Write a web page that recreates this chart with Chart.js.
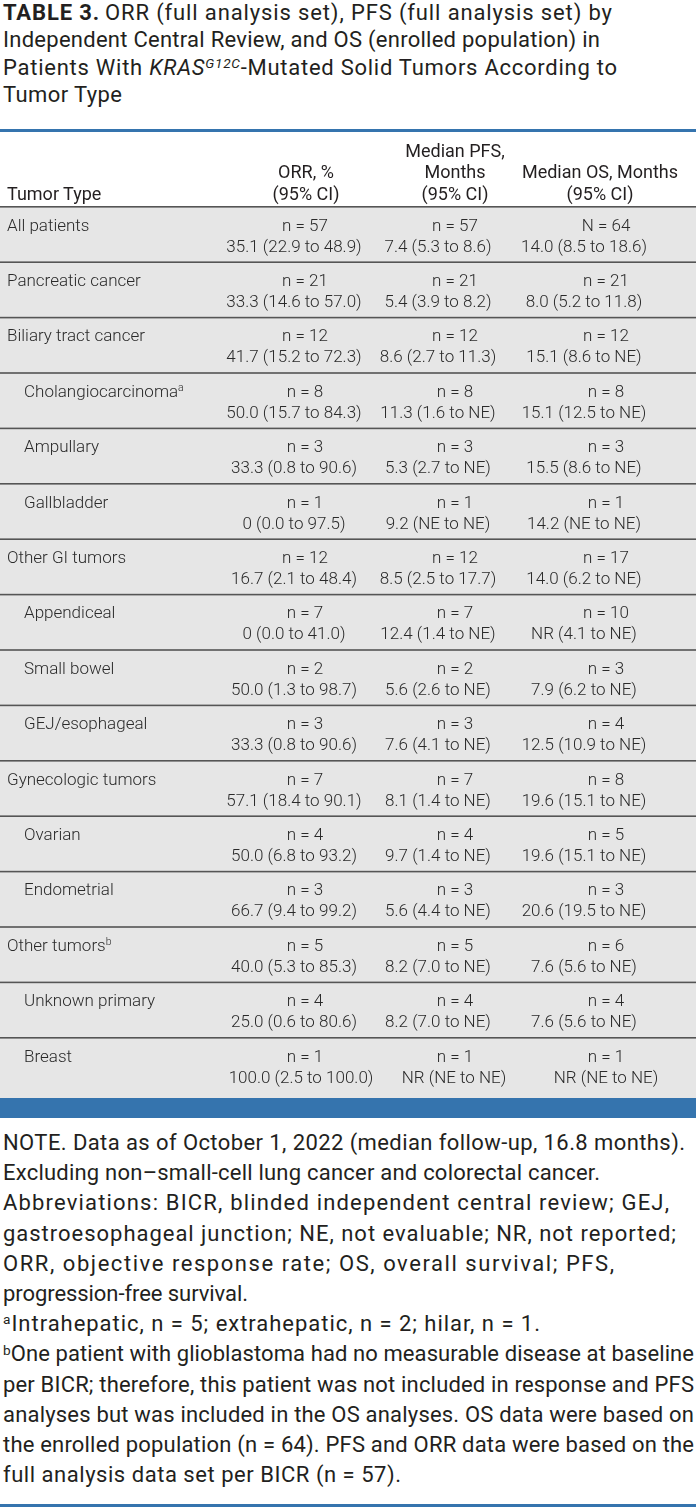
<!DOCTYPE html>
<html><head><meta charset="utf-8">
<script src="https://cdn.jsdelivr.net/npm/chart.js@4.4.0/dist/chart.umd.min.js"></script>
<style>
html,body{margin:0;padding:0;background:#fff;}
body{width:696px;height:1511px;position:relative;overflow:hidden;font-family:Roboto,"Noto Sans",sans-serif;color:#231f20;}
#title{position:absolute;left:3px;top:-1.5px;font-size:22px;line-height:27.6px;}
#title .ln, #notes .ln{width:max-content;white-space:nowrap;}
#title b{font-weight:700;margin-right:5px;}
.sup{font-size:0.62em;position:relative;top:-0.5em;line-height:0;}
#wrap{position:absolute;left:0;top:128px;width:696px;height:992px;}
#wrap canvas{position:absolute;left:0;top:0;}
.t{position:absolute;white-space:pre;font-size:17px;line-height:21px;}
.body{font-weight:300;color:#2a2a2a;}
.hdr{font-weight:400;color:#231f20;font-size:18px;}
#notes{position:absolute;left:3px;top:1128px;font-size:22px;line-height:30.2px;}
#rule{position:absolute;left:0;top:1504px;width:696px;height:3px;background:#3574ae;}
</style></head>
<body>
<div id="title">
<div class="ln" data-r="612"><b>TABLE 3.</b>ORR (full analysis set), PFS (full analysis set) by</div>
<div class="ln" data-r="600">Independent Central Review, and OS (enrolled population) in</div>
<div class="ln" data-r="617">Patients With <i>KRAS<span class="sup">G12C</span></i>-Mutated Solid Tumors According to</div>
<div class="ln" data-r="122">Tumor Type</div>
</div>
<div id="wrap"><canvas id="c" width="696" height="992" style="width:696px;height:992px"></canvas></div>
<div id="notes">
<div class="ln" data-r="685">NOTE. Data as of October 1, 2022 (median follow-up, 16.8 months).</div>
<div class="ln" data-r="600">Excluding non–small-cell lung cancer and colorectal cancer.</div>
<div class="ln" data-r="669">Abbreviations: BICR, blinded independent central review; GEJ,</div>
<div class="ln" data-r="676">gastroesophageal junction; NE, not evaluable; NR, not reported;</div>
<div class="ln" data-r="614">ORR, objective response rate; OS, overall survival; PFS,</div>
<div class="ln" data-r="248">progression-free survival.</div>
<div class="ln" data-r="540"><span class="sup">a</span>Intrahepatic, n = 5; extrahepatic, n = 2; hilar, n = 1.</div>
<div class="ln" data-r="694"><span class="sup">b</span>One patient with glioblastoma had no measurable disease at baseline</div>
<div class="ln" data-r="694">per BICR; therefore, this patient was not included in response and PFS</div>
<div class="ln" data-r="694">analyses but was included in the OS analyses. OS data were based on</div>
<div class="ln" data-r="694">the enrolled population (n = 64). PFS and ORR data were based on the</div>
<div class="ln" data-r="401">full analysis data set per BICR (n = 57).</div>
</div>
<div id="rule"></div>
<script>
// ---- data ----
const tumorTypes = ['All patients', 'Pancreatic cancer', 'Biliary tract cancer', 'Cholangiocarcinoma', 'Ampullary', 'Gallbladder', 'Other GI tumors', 'Appendiceal', 'Small bowel', 'GEJ/esophageal', 'Gynecologic tumors', 'Ovarian', 'Endometrial', 'Other tumors', 'Unknown primary', 'Breast'];
const isSubgroup = [false, false, false, true, true, true, false, true, true, true, false, true, true, false, true, true];
const footnoteMarks = ['', '', '', 'a', '', '', '', '', '', '', '', '', '', 'b', '', ''];
const columnHeaders = [['ORR, %', '(95% CI)'], ['Median PFS,', 'Months', '(95% CI)'], ['Median OS, Months', '(95% CI)']];
const rowHeader = 'Tumor Type';
const orrN = ['n = 57', 'n = 21', 'n = 12', 'n = 8', 'n = 3', 'n = 1', 'n = 12', 'n = 7', 'n = 2', 'n = 3', 'n = 7', 'n = 4', 'n = 3', 'n = 5', 'n = 4', 'n = 1'];
const orrValues = ['35.1 (22.9 to 48.9)', '33.3 (14.6 to 57.0)', '41.7 (15.2 to 72.3)', '50.0 (15.7 to 84.3)', '33.3 (0.8 to 90.6)', '0 (0.0 to 97.5)', '16.7 (2.1 to 48.4)', '0 (0.0 to 41.0)', '50.0 (1.3 to 98.7)', '33.3 (0.8 to 90.6)', '57.1 (18.4 to 90.1)', '50.0 (6.8 to 93.2)', '66.7 (9.4 to 99.2)', '40.0 (5.3 to 85.3)', '25.0 (0.6 to 80.6)', '100.0 (2.5 to 100.0)'];
const pfsN = ['n = 57', 'n = 21', 'n = 12', 'n = 8', 'n = 3', 'n = 1', 'n = 12', 'n = 7', 'n = 2', 'n = 3', 'n = 7', 'n = 4', 'n = 3', 'n = 5', 'n = 4', 'n = 1'];
const pfsValues = ['7.4 (5.3 to 8.6)', '5.4 (3.9 to 8.2)', '8.6 (2.7 to 11.3)', '11.3 (1.6 to NE)', '5.3 (2.7 to NE)', '9.2 (NE to NE)', '8.5 (2.5 to 17.7)', '12.4 (1.4 to NE)', '5.6 (2.6 to NE)', '7.6 (4.1 to NE)', '8.1 (1.4 to NE)', '9.7 (1.4 to NE)', '5.6 (4.4 to NE)', '8.2 (7.0 to NE)', '8.2 (7.0 to NE)', 'NR (NE to NE)'];
const osN = ['N = 64', 'n = 21', 'n = 12', 'n = 8', 'n = 3', 'n = 1', 'n = 17', 'n = 10', 'n = 3', 'n = 4', 'n = 8', 'n = 5', 'n = 3', 'n = 6', 'n = 4', 'n = 1'];
const osValues = ['14.0 (8.5 to 18.6)', '8.0 (5.2 to 11.8)', '15.1 (8.6 to NE)', '15.1 (12.5 to NE)', '15.5 (8.6 to NE)', '14.2 (NE to NE)', '14.0 (6.2 to NE)', 'NR (4.1 to NE)', '7.9 (6.2 to NE)', '12.5 (10.9 to NE)', '19.6 (15.1 to NE)', '19.6 (15.1 to NE)', '20.6 (19.5 to NE)', '7.6 (5.6 to NE)', '7.6 (5.6 to NE)', 'NR (NE to NE)'];

// ---- layout / style ----
const BLUE = '#3574ae';
const BODY_BG = '#e6e6e6';
const RULE = '#555555';
const headerCenters = [306, 455, 600];
const nCenters = [305, 455, 606];
const valueCenters = [294, 438, 584];
const lastValueCenters = [301, 454, 606];
const labelX = 7, subLabelX = 24;

const tablePlugin = {
  id: 'tableGrid',
  beforeDraw(chart) {
    const ctx = chart.ctx, ys = chart.scales.y, W = chart.width;
    const step = ys.getPixelForValue(1) - ys.getPixelForValue(0);
    const top0 = ys.getPixelForValue(0) - step / 2;
    const bot = ys.getPixelForValue(tumorTypes.length - 1) + step / 2;
    ctx.save();
    ctx.fillStyle = BLUE; ctx.fillRect(0, 1, W, 3);
    ctx.fillStyle = BODY_BG; ctx.fillRect(0, top0, W, bot + 4.6 - top0);
    ctx.fillStyle = RULE;
    tumorTypes.forEach((t, i) => {
      const y = ys.getPixelForValue(i) - step / 2;
      ctx.fillRect(0, y - 1, W, 1.6);
    });
    ctx.fillStyle = BLUE; ctx.fillRect(0, bot + 4.6, W, 20);
    ctx.restore();
  }
};

const chart = new Chart(document.getElementById('c'), {
  type: 'bar',
  data: { labels: tumorTypes, datasets: [{ data: tumorTypes.map(() => null) }] },
  options: {
    indexAxis: 'y', responsive: false, animation: false, events: [],
    layout: { padding: { top: 79, bottom: 26.6, left: 0, right: 0 } },
    plugins: { legend: { display: false }, tooltip: { enabled: false } },
    scales: {
      y: { type: 'category', display: false, offset: true },
      x: { type: 'linear', display: false, min: 0, max: 696 }
    }
  },
  plugins: [tablePlugin]
});

// ---- text overlay positioned from the chart scales ----
const wrap = document.getElementById('wrap');
const ys = chart.scales.y, xs = chart.scales.x;
const step = ys.getPixelForValue(1) - ys.getPixelForValue(0);
const LH = 21;
function put(html, x, yc, mode, cls) {
  const d = document.createElement('div');
  d.className = 't ' + cls;
  d.innerHTML = html;
  d.style.top = (yc - LH / 2) + 'px';
  if (mode === 'left') d.style.left = x + 'px';
  else if (mode === 'right') d.style.right = (696 - x) + 'px';
  else { d.style.left = x + 'px'; d.style.transform = 'translateX(-50%)'; }
  wrap.appendChild(d);
}
const hdrBottom = ys.getPixelForValue(0) - step / 2 - 14;
put(rowHeader, xs.getPixelForValue(labelX), hdrBottom, 'left', 'hdr');
columnHeaders.forEach((lines, c) => {
  lines.forEach((ln, k) => {
    put(ln, xs.getPixelForValue(headerCenters[c]), hdrBottom - (lines.length - 1 - k) * 21.5, 'center', 'hdr');
  });
});
const nCols = [orrN, pfsN, osN], vCols = [orrValues, pfsValues, osValues];
tumorTypes.forEach((name, i) => {
  const top = ys.getPixelForValue(i) - step / 2;
  const yN = top + 18, yV = top + 39;
  const mark = footnoteMarks[i] ? '<span class="sup">' + footnoteMarks[i] + '</span>' : '';
  put(name + mark, xs.getPixelForValue(isSubgroup[i] ? subLabelX : labelX), yN, 'left', 'body');
  const vc = i === tumorTypes.length - 1 ? lastValueCenters : valueCenters;
  for (let c = 0; c < 3; c++) {
    put(nCols[c][i], xs.getPixelForValue(nCenters[c]), yN, 'center', 'body');
    put(vCols[c][i], xs.getPixelForValue(vc[c]), yV, 'center', 'body');
  }
});

// ---- fit title / note lines to the measured line lengths ----
function fitLines() {
  document.querySelectorAll('.ln').forEach(el => {
    el.style.letterSpacing = '0px';
    const r = el.getBoundingClientRect();
    const n = el.textContent.length;
    const target = parseFloat(el.dataset.r);
    el.style.letterSpacing = ((target - r.right) / Math.max(1, n - 1)) + 'px';
  });
}
fitLines();
if (document.fonts && document.fonts.ready) document.fonts.ready.then(fitLines);
</script>
</body></html>
